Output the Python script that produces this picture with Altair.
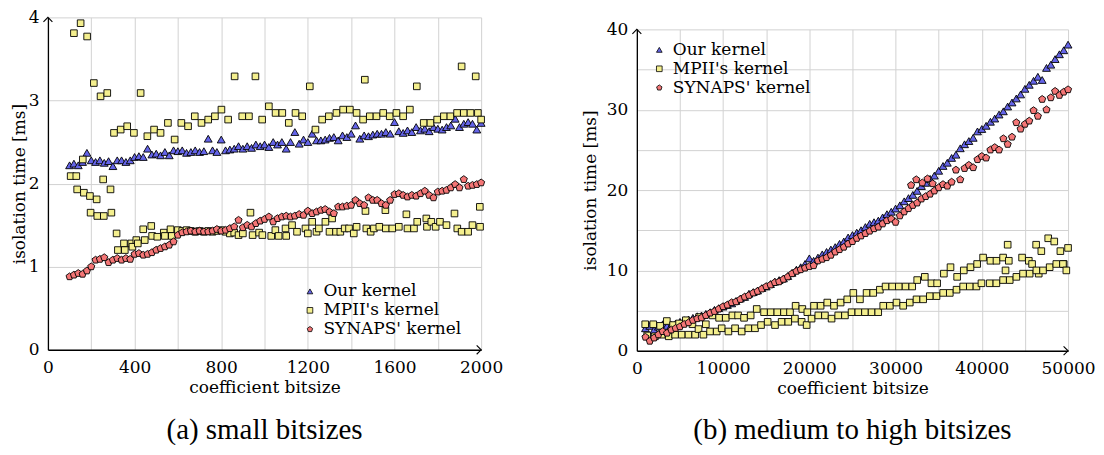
import altair as alt
import pandas as pd

series_names = ["Our kernel", "MPII's kernel", "SYNAPS' kernel"]
fill_colors = ["#6464e8", "#f4ef8e", "#f47676"]
stroke_colors = ["#000000", "#000000", "#000000"]
pentagon = "M0,-1L0.951,-0.309L0.588,0.809L-0.588,0.809L-0.951,-0.309Z"
shapes = ["triangle-up", "square", pentagon]
sizes = [62, 44, 56]

# ---------------- panel (a): small bitsizes ----------------
a_x = list(range(100, 2001, 20))
a_our_y = [
    2.22, 2.24, 2.22, 2.26, 2.37, 2.28, 2.26, 2.28, 2.25, 2.27,
    2.21, 2.28, 2.28, 2.26, 2.28, 2.32, 2.33, 2.32, 2.42, 2.35,
    2.36, 2.34, 2.38, 2.34, 2.40, 2.39, 2.40, 2.37, 2.38, 2.40,
    2.38, 2.39, 2.54, 2.40, 2.38, 2.53, 2.40, 2.41, 2.42, 2.45,
    2.42, 2.45, 2.43, 2.47, 2.45, 2.47, 2.44, 2.50, 2.47, 2.50,
    2.42, 2.50, 2.62, 2.48, 2.53, 2.50, 2.60, 2.52, 2.52, 2.53,
    2.55, 2.56, 2.52, 2.58, 2.56, 2.60, 2.70, 2.54, 2.58, 2.57,
    2.59, 2.60, 2.60, 2.62, 2.60, 2.74, 2.63, 2.61, 2.64, 2.62,
    2.68, 2.64, 2.66, 2.63, 2.68, 2.66, 2.65, 2.68, 2.70, 2.78,
    2.68, 2.72, 2.74, 2.72, 2.65, 2.73,
]
a_syn_y = [
    0.88, 0.90, 0.92, 0.91, 0.95, 1.00, 1.08, 1.09, 1.11, 1.05,
    1.08, 1.10, 1.08, 1.10, 1.09, 1.15, 1.16, 1.14, 1.15, 1.17,
    1.20, 1.22, 1.24, 1.26, 1.30, 1.38, 1.41, 1.42, 1.43, 1.42,
    1.43, 1.42, 1.42, 1.43, 1.45, 1.43, 1.44, 1.46, 1.48, 1.56,
    1.47, 1.50, 1.48, 1.52, 1.55, 1.57, 1.60, 1.54, 1.58, 1.60,
    1.61, 1.60, 1.61, 1.63, 1.62, 1.67, 1.64, 1.66, 1.68, 1.69,
    1.66, 1.64, 1.72, 1.72, 1.73, 1.74, 1.80, 1.76, 1.74, 1.83,
    1.80, 1.80, 1.76, 1.74, 1.80, 1.87, 1.88, 1.86, 1.84, 1.86,
    1.85, 1.88, 1.91, 1.86, 1.83, 1.90, 1.91, 1.92, 1.95, 1.99,
    1.95, 2.05, 1.97, 1.98, 1.99, 2.01,
]
a_mpii_top_x = [120, 151, 181, 212, 243, 274, 428, 862, 958, 1209, 1463, 1703, 1910, 1975]
a_mpii_top_y = [3.81, 3.93, 3.77, 3.21, 3.05, 3.09, 3.09, 3.29, 3.29, 3.17, 3.25, 3.17, 3.41, 3.29]
a_mpii_up_x = [
    305, 336, 366, 397, 459, 490, 520, 554, 585, 616,
    647, 678, 709, 740, 771, 801, 832, 897, 928, 989,
    1020, 1051, 1082, 1112, 1143, 1174, 1235, 1266, 1297, 1332,
    1363, 1394, 1425, 1455, 1486, 1517, 1548, 1578, 1609, 1640,
    1671, 1735, 1766, 1797, 1828, 1858, 1889, 1920, 1951, 1985,
    2000,
]
a_mpii_up_y = [
    2.61, 2.65, 2.69, 2.61, 2.57, 2.65, 2.61, 2.73, 2.53, 2.73,
    2.69, 2.81, 2.73, 2.77, 2.81, 2.89, 2.77, 2.81, 2.81, 2.77,
    2.93, 2.85, 2.85, 2.73, 2.85, 2.81, 2.65, 2.77, 2.81, 2.85,
    2.89, 2.89, 2.85, 2.77, 2.81, 2.81, 2.85, 2.81, 2.85, 2.81,
    2.89, 2.73, 2.73, 2.77, 2.81, 2.81, 2.85, 2.85, 2.85, 2.85,
    2.77,
]
a_mpii_low_x = [
    105, 131, 135, 161, 166, 194, 197, 225, 228, 255,
    258, 289, 293, 317, 323, 351, 355, 385, 390, 408,
    415, 440, 447, 477, 481, 505, 535, 540, 566, 572,
    600, 620, 640, 660, 680, 700, 720, 740, 760, 780,
    800, 820, 840, 860, 880, 900, 935, 945, 975, 990,
    1031, 1050, 1065, 1097, 1100, 1127, 1150, 1189, 1200, 1220,
    1240, 1251, 1281, 1300, 1312, 1330, 1350, 1370, 1390, 1412,
    1425, 1466, 1470, 1490, 1505, 1530, 1558, 1560, 1590, 1620,
    1655, 1660, 1690, 1705, 1747, 1750, 1770, 1790, 1810, 1840,
    1877, 1890, 1910, 1940, 1960, 1994, 1995,
]
a_mpii_low_y = [
    2.09, 2.09, 1.93, 2.29, 1.89, 1.85, 1.65, 1.81, 1.61, 2.05,
    1.61, 1.93, 1.65, 1.40, 1.20, 1.28, 1.20, 1.28, 1.24, 1.32,
    1.28, 1.45, 1.32, 1.49, 1.37, 1.36, 1.41, 1.37, 1.45, 1.37,
    1.44, 1.43, 1.44, 1.43, 1.42, 1.43, 1.42, 1.43, 1.42, 1.43,
    1.44, 1.42, 1.40, 1.41, 1.38, 1.40, 1.65, 1.38, 1.41, 1.38,
    1.37, 1.44, 1.37, 1.46, 1.37, 1.50, 1.42, 1.46, 1.40, 1.54,
    1.42, 1.46, 1.54, 1.42, 1.58, 1.42, 1.42, 1.46, 1.46, 1.40,
    1.48, 1.67, 1.46, 1.42, 1.46, 1.48, 1.68, 1.46, 1.46, 1.48,
    1.63, 1.46, 1.46, 1.54, 1.58, 1.48, 1.54, 1.48, 1.54, 1.50,
    1.64, 1.46, 1.42, 1.42, 1.50, 1.72, 1.48,
]

# ---------------- panel (b): medium to high bitsizes ----------------
b_x = list(range(1000, 50001, 500))
b_our_y = [
    2.8, 3.1, 2.6, 3.0, 3.3, 3.1, 3.2, 3.4, 3.6, 3.8,
    3.9, 4.1, 4.3, 4.4, 4.6, 4.8, 5.1, 5.3, 5.5, 5.7,
    5.9, 6.2, 6.5, 6.7, 7.1, 7.3, 7.5, 7.8, 8.0, 8.3,
    8.6, 8.8, 9.0, 9.3, 9.7, 10.1, 10.4, 10.8, 11.5, 11.2,
    11.6, 12.0, 12.3, 12.6, 12.9, 13.3, 13.6, 14.1, 14.4, 14.7,
    15.0, 15.4, 15.8, 16.0, 16.2, 16.6, 17.0, 17.3, 17.7, 18.1,
    18.6, 19.0, 19.4, 19.9, 20.5, 20.9, 21.4, 21.8, 22.4, 23.0,
    23.4, 24.0, 24.4, 25.2, 25.7, 26.1, 26.5, 27.3, 27.6, 28.0,
    28.5, 28.9, 29.4, 29.8, 30.4, 30.9, 31.4, 31.9, 32.6, 33.1,
    33.6, 34.1, 33.7, 35.2, 35.6, 36.3, 36.9, 37.4, 38.1,
]
b_syn_y = [
    1.7, 1.2, 1.6, 2.0, 2.4, 2.2, 2.6, 2.8, 3.0, 3.3,
    3.5, 3.8, 4.0, 4.1, 4.4, 4.7, 4.9, 5.2, 5.5, 5.7,
    6.0, 6.1, 6.4, 6.7, 6.9, 7.2, 7.4, 7.7, 8.0, 8.2,
    8.5, 8.6, 8.9, 9.2, 9.6, 9.9, 10.1, 10.3, 10.5, 10.6,
    11.2, 11.4, 11.6, 11.9, 12.3, 12.6, 12.9, 13.3, 13.6, 14.0,
    14.3, 14.6, 14.9, 15.2, 15.4, 15.8, 16.2, 16.4, 16.0, 16.8,
    17.3, 17.7, 18.1, 18.4, 18.9, 19.2, 19.5, 19.9, 20.3, 20.7,
    20.5, 21.0, 22.5, 21.3, 22.7, 23.1, 22.8, 23.8, 24.2, 24.0,
    25.0, 25.3, 25.0, 26.4, 25.7, 26.6, 28.4, 27.6, 28.2, 28.6,
    29.9, 29.2, 31.3, 30.0, 31.5, 32.3, 31.8, 32.2, 32.5,
]
b_syn_extra_x = [31800, 32400, 33100, 33700, 34300]
b_syn_extra_y = [20.6, 21.3, 20.9, 21.4, 20.8]
b_mpii_up_x = [
    970, 1900, 2700, 3480, 4200, 4900, 5680, 6450, 7220, 8000,
    8770, 9540, 10310, 11080, 11740, 12430, 13200, 13900, 14750, 15520,
    16290, 17060, 17760, 18410, 19190, 19770, 20540, 21310, 22080, 22860,
    23630, 24400, 25100, 25870, 26640, 27410, 28180, 28840, 29610, 30380,
    31160, 31930, 32510, 33390, 34160, 34820, 35600, 36370, 37140, 37910,
    38690, 39460, 40150, 41000, 41700, 42470, 42750, 43130, 43000, 44670,
    45450, 45830, 46300, 46600, 46900, 47700, 48400, 49110, 49500, 50000,
]
b_mpii_up_y = [
    3.3, 3.3, 3.1, 3.7, 3.2, 3.4, 3.8, 3.3, 4.2, 3.3,
    4.4, 4.1, 4.1, 4.4, 4.4, 4.1, 4.4, 5.2, 4.8, 4.8,
    4.8, 4.8, 4.8, 5.6, 5.2, 4.8, 5.6, 5.6, 6.0, 5.6,
    6.0, 6.4, 7.2, 6.4, 7.2, 7.2, 7.6, 8.0, 8.0, 8.0,
    8.0, 8.0, 8.8, 9.2, 8.4, 8.4, 9.6, 10.4, 9.2, 10.0,
    10.4, 10.8, 11.6, 11.2, 11.2, 11.6, 10.0, 11.2, 13.2, 11.6,
    11.2, 10.8, 13.2, 9.6, 12.4, 14.0, 13.6, 12.4, 10.8, 12.8,
]
b_mpii_low_x = [
    1200, 2100, 2900, 3700, 4440, 5200, 5990, 6760, 7150, 7720,
    8490, 9260, 9840, 10620, 11390, 12160, 12930, 13700, 14400, 15170,
    16020, 16790, 17560, 18330, 19110, 19690, 20260, 21040, 21810, 22580,
    23350, 24130, 24900, 25680, 26450, 27220, 27990, 28570, 29340, 30110,
    30880, 31650, 32430, 33200, 33970, 34750, 35520, 36290, 37070, 37840,
    38610, 39380, 39960, 40920, 41690, 42470, 43240, 44010, 44780, 45550,
    46330, 47100, 47870, 48640, 49410, 49800,
]
b_mpii_low_y = [
    1.9, 1.8, 2.0, 1.8, 2.0, 2.0, 2.0, 2.0, 2.7, 2.0,
    2.4, 2.4, 2.8, 2.4, 2.8, 2.4, 2.8, 2.8, 3.2, 3.6,
    3.2, 3.6, 3.6, 4.0, 3.6, 3.2, 4.0, 4.4, 4.4, 4.0,
    4.4, 4.4, 4.8, 4.8, 4.8, 4.8, 4.8, 5.6, 5.6, 6.0,
    5.6, 6.0, 6.4, 6.4, 6.8, 6.8, 7.2, 7.2, 7.6, 8.0,
    8.0, 8.0, 8.4, 8.4, 8.4, 8.8, 8.8, 9.2, 9.6, 9.6,
    10.0, 10.0, 10.4, 10.8, 10.8, 10.0,
]

a_grid_x = [0, 200, 400, 600, 800, 1000, 1200, 1400, 1600, 1800, 2000]
a_grid_y = [0, 0.5, 1, 1.5, 2, 2.5, 3, 3.5, 4]
b_grid_x = [0, 5000, 10000, 15000, 20000, 25000, 30000, 35000, 40000, 45000, 50000]
b_grid_y = [0, 5, 10, 15, 20, 25, 30, 35, 40]

captions = ["(a) small bitsizes", "(b) medium to high bitsizes"]
x_title = "coefficient bitsize"
y_title = "isolation time [ms]"


def frame(groups):
    rows = []
    for name, xs, ys in groups:
        for xv, yv in zip(xs, ys):
            rows.append({"x": xv, "y": yv, "series": name})
    return pd.DataFrame(rows)


df_a = frame([
    (series_names[0], a_x, a_our_y),
    (series_names[1], a_mpii_top_x, a_mpii_top_y),
    (series_names[1], a_mpii_up_x, a_mpii_up_y),
    (series_names[1], a_mpii_low_x, a_mpii_low_y),
    (series_names[2], a_x, a_syn_y),
])
df_b = frame([
    (series_names[0], b_x, b_our_y),
    (series_names[1], b_mpii_up_x, b_mpii_up_y),
    (series_names[1], b_mpii_low_x, b_mpii_low_y),
    (series_names[2], b_x, b_syn_y),
    (series_names[2], b_syn_extra_x, b_syn_extra_y),
])

SERIF = "DejaVu Serif"


def panel(df, xdom, ydom, gx, gy, xstep, ystep, w, h, lx, ly, caption, cap_y, ytp):
    legend = alt.Legend(
        title=None, orient="none", legendX=lx, legendY=ly,
        labelFont=SERIF, labelFontSize=17, labelColor="black",
        symbolSize=32, symbolStrokeColor="black", symbolStrokeWidth=0.8,
        symbolOpacity=1, rowPadding=1, labelOffset=5,
    )
    xenc = alt.X("x:Q", title=x_title,
                 scale=alt.Scale(domain=xdom, nice=False, zero=False),
                 axis=alt.Axis(values=gx, format="d", labelFlush=False,
                               labelExpr=f"datum.value % {xstep} == 0 ? datum.label : ''"))
    yenc = alt.Y("y:Q", title=y_title,
                 scale=alt.Scale(domain=ydom, nice=False, zero=False),
                 axis=alt.Axis(values=gy, format="d", titlePadding=ytp, labelPadding=9,
                               labelFlush=False,
                               labelExpr=f"datum.value % {ystep} == 0 ? datum.label : ''"))
    fenc = alt.Fill("series:N", scale=alt.Scale(domain=series_names, range=fill_colors), legend=legend)
    senc = alt.Shape("series:N", scale=alt.Scale(domain=series_names, range=shapes), legend=legend)
    kenc = alt.Stroke("series:N", scale=alt.Scale(domain=series_names, range=stroke_colors), legend=legend)
    layers = []
    for name, sz in zip(series_names, sizes):
        layers.append(
            alt.Chart(df[df["series"] == name]).mark_point(
                filled=True, strokeWidth=0.9, opacity=1, size=sz
            ).encode(x=xenc, y=yenc, fill=fenc, shape=senc, stroke=kenc)
        )
    one = pd.DataFrame({"k": [0]})
    arrow_x = alt.Chart(one).mark_point(
        shape="M-1,-1L0,0L-1,1", filled=False, stroke="black", strokeWidth=1.1, size=80, opacity=1
    ).encode(x=alt.value(w), y=alt.value(h))
    arrow_y = alt.Chart(one).mark_point(
        shape="M-1,1L0,0L1,1", filled=False, stroke="black", strokeWidth=1.1, size=80, opacity=1
    ).encode(x=alt.value(0), y=alt.value(0))
    cap = alt.Chart(pd.DataFrame({"t": [caption]})).mark_text(
        font="Liberation Serif", fontSize=29, color="black", align="center", baseline="middle"
    ).encode(text="t:N", x=alt.value(w / 2), y=alt.value(cap_y))
    return alt.layer(*layers, arrow_x, arrow_y, cap).properties(width=w, height=h)


left = panel(df_a, [0, 2000], [0, 4], a_grid_x, a_grid_y, 400, 1, 434, 333,
             254, 266, captions[0], 413, 0)
right_panel = panel(df_b, [0, 50000], [0, 40], b_grid_x, b_grid_y, 10000, 10, 432, 322,
                    14, 24, captions[1], 401, 7)
spacer = alt.Chart(pd.DataFrame({"k": [0]})).mark_point(opacity=0).encode(
    x=alt.value(0), y=alt.value(0)
).properties(width=432, height=1)
right = alt.vconcat(spacer, right_panel, spacing=0)

chart = alt.hconcat(left, right, spacing=78).resolve_scale(
    fill="independent", shape="independent", stroke="independent"
).resolve_legend(
    fill="independent", shape="independent", stroke="independent"
).configure_view(stroke=None).configure_axis(
    labelFont=SERIF, labelFontSize=17, labelColor="black",
    titleFont=SERIF, titleFontSize=17, titleFontWeight="normal", titleColor="black",
    gridColor="#d2d2d2", gridWidth=1, domainColor="black", domainWidth=1.3,
    ticks=False, labelPadding=10,
).properties(padding={"left": 2, "top": 0, "right": 0, "bottom": 0})

chart.save("out.html", embed_options={"renderer": "svg", "actions": False})
